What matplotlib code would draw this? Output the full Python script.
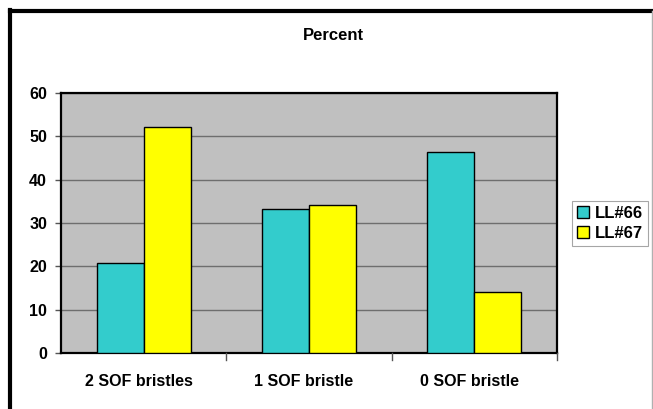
import matplotlib
matplotlib.use("Agg")
import matplotlib.pyplot as plt
import numpy as np

plt.rcParams['font.family'] = ['Liberation Sans', 'DejaVu Sans']
plt.rcParams['font.weight'] = 'bold'

categories = ["2 SOF bristles", "1 SOF bristle", "0 SOF bristle"]
ll66 = [20.7, 33.2, 46.3]
ll67 = [52.1, 34.2, 14.0]
series_names = ["LL#66", "LL#67"]
yticks = [0, 10, 20, 30, 40, 50, 60]

W, H = 653, 409
fig = plt.figure(figsize=(W / 100, H / 100), dpi=100)
fig.patch.set_facecolor("white")

# outer chart frame (left and top thick, right thin)
fig.add_artist(plt.Line2D([10 / W, 10 / W], [0, 1 - 10 / H], color="black", lw=3,
                          transform=fig.transFigure))
fig.add_artist(plt.Line2D([10 / W, 1], [1 - 11 / H, 1 - 11 / H], color="black", lw=3,
                          transform=fig.transFigure))
fig.add_artist(plt.Line2D([652 / W, 652 / W], [0, 1 - 11 / H], color="#b0b0b0", lw=1,
                          transform=fig.transFigure))

left, right, top, bottom = 61, 557, 93, 353
ax = fig.add_axes([left / W, 1 - bottom / H, (right - left) / W, (bottom - top) / H])
ax.set_facecolor("#c0c0c0")

x = np.arange(len(categories))
bw = 0.284
ax.bar(x - bw / 2, ll66, bw, color="#33cccc", edgecolor="black", linewidth=1.0,
       label=series_names[0], zorder=3)
ax.bar(x + bw / 2, ll67, bw, color="#ffff00", edgecolor="black", linewidth=1.0,
       label=series_names[1], zorder=3)

ax.set_xlim(-0.5, len(categories) - 0.5)
ax.set_ylim(0, 60)
ax.set_yticks(yticks)
ax.set_yticklabels([str(v) for v in yticks], fontsize=11.5, fontweight="bold")
ax.yaxis.grid(True, color="#6e6e6e", linewidth=1.0, zorder=1)
ax.set_axisbelow(True)

# category labels between boundary ticks
ax.set_xticks(x - 0.03)
ax.set_xticklabels(categories, fontsize=11.5, fontweight="bold")
ax.tick_params(axis="x", length=0, pad=15)
for b in np.arange(0.5, len(categories), 1.0):
    ax.plot([b, b], [0, -1.6], color="#555555", lw=1, clip_on=False, zorder=4)
ax.tick_params(axis="y", length=4, width=1, color="#555555", pad=6)

for s in ax.spines.values():
    s.set_color("black")
    s.set_linewidth(1.6)

fig.text(333 / W, 1 - 35 / H, "Percent", ha="center", va="center",
         fontsize=12, fontweight="bold")

leg = ax.legend(loc="center left", bbox_to_anchor=(572 / W, 1 - 223 / H),
                bbox_transform=fig.transFigure, frameon=True, fancybox=False,
                fontsize=12, handlelength=0.7, handleheight=0.7, handletextpad=0.35,
                borderpad=0.3, labelspacing=0.3, borderaxespad=0)
leg.get_frame().set_edgecolor("#909090")
leg.get_frame().set_linewidth(0.8)
for t in leg.get_texts():
    t.set_fontweight("bold")

fig.savefig("out.png", dpi=100)
